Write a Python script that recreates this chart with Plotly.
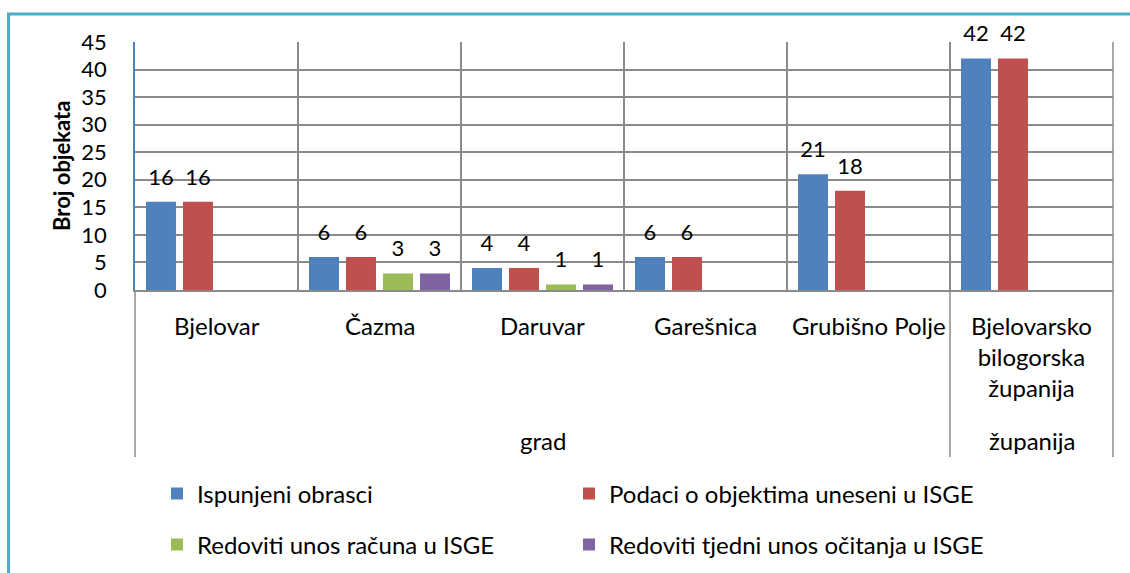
import plotly.graph_objects as go

# ---- data ----
categories = ["Bjelovar", "Čazma", "Daruvar", "Garešnica", "Grubišno Polje",
              "Bjelovarsko bilogorska županija"]
category_labels = ["Bjelovar", "Čazma", "Daruvar", "Garešnica", "Grubišno Polje",
                   "Bjelovarsko<br>bilogorska<br>županija"]
groups = ["grad", "županija"]
group_sizes = [5, 1]

series_names = ["Ispunjeni obrasci", "Podaci o objektima uneseni u ISGE",
                "Redoviti unos računa u ISGE", "Redoviti tjedni unos očitanja u ISGE"]
ispunjeni = [16, 6, 4, 6, 21, 42]
podaci = [16, 6, 4, 6, 18, 42]
racuni = [None, 3, 1, None, None, None]
ocitanja = [None, 3, 1, None, None, None]
series_values = [ispunjeni, podaci, racuni, ocitanja]
colors = ["#4F81BD", "#C0504D", "#9BBB59", "#8064A2"]

y_ticks = [0, 5, 10, 15, 20, 25, 30, 35, 40, 45]
y_title = "Broj objekata"

# ---- style ----
FONT = "Lato"
FS_NUM = 22
FS_TXT = 24
GRID = "#8A8A8A"
W, H = 1130, 573
ML, MR, MT, MB = 135, 17, 42, 283
PW = W - ML - MR
PH = H - MT - MB
BARGAP = 0.092


def py2paper(py):
    return (H - MB - py) / PH


def px2paper(px):
    return (px - ML) / PW


fig = go.Figure()
legend_ids = ["legend", "legend2", "legend3", "legend4"]
for i, (name, vals, col) in enumerate(zip(series_names, series_values, colors)):
    fig.add_trace(go.Bar(
        x=categories, y=vals, name=name, marker_color=col,
        marker_line_width=0, offsetgroup=str(i), alignmentgroup="a",
        legend=legend_ids[i], hoverinfo="x+y+name"))
for i, (name, vals) in enumerate(zip(series_names, series_values)):
    fig.add_trace(go.Scatter(
        x=categories, y=vals, mode="markers+text",
        text=[("" if v is None else str(v)) for v in vals],
        textposition="top center",
        textfont=dict(family=FONT, size=FS_NUM, color="#000000"),
        marker=dict(size=17, opacity=0),
        offsetgroup=str(i), alignmentgroup="a",
        showlegend=False, hoverinfo="skip", cliponaxis=False))

shapes = []
ncat = len(categories)
# teal frame (cut off on right & bottom)
shapes.append(dict(type="rect", xref="paper", yref="paper",
                   x0=px2paper(8.5), x1=px2paper(W + 20),
                   y0=py2paper(H + 20), y1=py2paper(14),
                   line=dict(color="#4BACC6", width=3), layer="below"))
# category-axis box lines below plot
bottom = py2paper(457)
bounds = [0]
for s in group_sizes:
    bounds.append(bounds[-1] + s)
for b in bounds:
    xp = b / ncat
    shapes.append(dict(type="line", xref="paper", yref="paper",
                       x0=xp, x1=xp, y0=bottom, y1=1 if b == ncat else 0,
                       line=dict(color=GRID, width=1.5)))

annotations = []
for cat, lab in zip(categories, category_labels):
    annotations.append(dict(x=cat, xref="x", y=py2paper(309), yref="paper",
                            text=lab, showarrow=False, yanchor="top",
                            xanchor="center",
                            font=dict(family=FONT, size=FS_TXT, color="#000000")))
for gi, g in enumerate(groups):
    xc = (bounds[gi] + bounds[gi + 1]) / 2 / ncat
    annotations.append(dict(x=xc, xref="paper", y=py2paper(440), yref="paper",
                            text=g, showarrow=False, yanchor="middle",
                            xanchor="center",
                            font=dict(family=FONT, size=FS_TXT, color="#000000")))
annotations.append(dict(x=px2paper(61), xref="paper", y=0.5, yref="paper",
                        text="<b>" + y_title + "</b>", textangle=-90,
                        showarrow=False, xanchor="center", yanchor="middle",
                        font=dict(family=FONT, size=FS_NUM, color="#000000")))

legend_common = dict(orientation="h",
                     font=dict(family=FONT, size=FS_TXT, color="#000000"),
                     bgcolor="rgba(0,0,0,0)", itemwidth=30,
                     xanchor="left", yanchor="middle")
legend_cols = [157, 569]
legend_rows = [494, 545]
legend_layout = {}
for i, lid in enumerate(legend_ids):
    legend_layout[lid] = dict(x=px2paper(legend_cols[i % 2]),
                              y=py2paper(legend_rows[i // 2]), **legend_common)

fig.update_layout(
    width=W, height=H, autosize=False,
    margin=dict(l=ML, r=MR, t=MT, b=MB, autoexpand=False),
    paper_bgcolor="white", plot_bgcolor="white",
    barmode="group", bargap=BARGAP, bargroupgap=0.19,
    scattermode="group", scattergap=BARGAP,
    font=dict(family=FONT, size=FS_TXT, color="#000000"),
    xaxis=dict(type="category", tickson="boundaries", showgrid=True,
               gridcolor=GRID, gridwidth=1.5, showticklabels=False,
               showline=True, linecolor=GRID, linewidth=1.5, ticks="",
               zeroline=False, fixedrange=True, automargin=False),
    yaxis=dict(range=[0, 45], tickvals=y_ticks, showgrid=True,
               gridcolor=GRID, gridwidth=1.5, showline=True,
               linecolor="#4F81BD", linewidth=1.5, zeroline=False,
               ticks="", ticklabelstandoff=22, automargin=False,
               tickfont=dict(family=FONT, size=FS_NUM, color="#000000")),
    shapes=shapes,
    annotations=annotations,
    **legend_layout,
)

fig.write_html("out.html", config={"displayModeBar": False},
               post_script="document.body.style.margin='0';"
                           "document.body.style.overflow='hidden';")
